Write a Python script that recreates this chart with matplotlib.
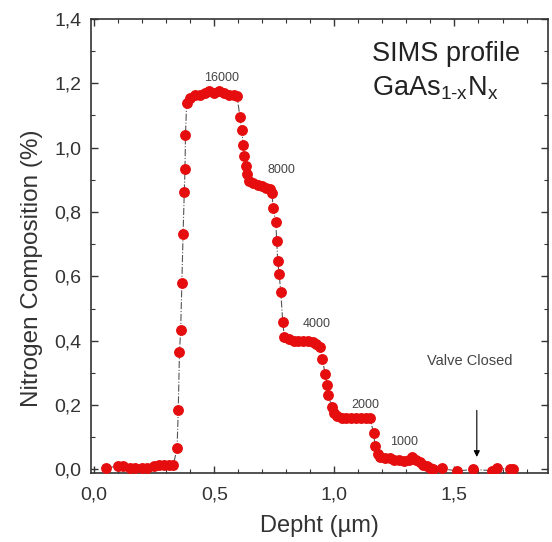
import matplotlib
matplotlib.use("Agg")
import matplotlib.pyplot as plt
from matplotlib.ticker import MultipleLocator, FuncFormatter

plt.rcParams['font.family'] = ['Liberation Sans', 'DejaVu Sans']
plt.rcParams['mathtext.fontset'] = 'custom'
plt.rcParams['mathtext.rm'] = 'Liberation Sans'

depth = [0.05, 0.10, 0.12, 0.15, 0.17, 0.20, 0.22, 0.25, 0.27, 0.29, 0.31, 0.33,
         0.345, 0.35, 0.355, 0.36, 0.365, 0.37, 0.375, 0.378, 0.38, 0.385,
         0.40, 0.42, 0.44, 0.46, 0.48, 0.50, 0.52, 0.54, 0.56, 0.58, 0.595,
         0.607, 0.614, 0.621, 0.625, 0.631, 0.636,
         0.645, 0.66, 0.68, 0.70, 0.715, 0.73, 0.74,
         0.745, 0.756, 0.76, 0.764, 0.77, 0.777, 0.785, 0.792,
         0.81, 0.83, 0.85, 0.87, 0.89, 0.91, 0.925, 0.94,
         0.95, 0.961, 0.971, 0.975, 0.989, 0.999,
         1.01, 1.03, 1.05, 1.07, 1.09, 1.11, 1.13, 1.148,
         1.163, 1.17, 1.18, 1.19, 1.21, 1.23, 1.25, 1.27, 1.29, 1.31, 1.325,
         1.34, 1.355, 1.37, 1.385, 1.40, 1.41,
         1.447, 1.51, 1.579, 1.656, 1.677, 1.732, 1.745]
nitrogen = [0.005, 0.01, 0.01, 0.005, 0.005, 0.005, 0.005, 0.01, 0.015, 0.015, 0.015, 0.015,
            0.067, 0.185, 0.365, 0.432, 0.58, 0.731, 0.861, 0.933, 1.039, 1.139,
            1.155, 1.165, 1.165, 1.17, 1.175, 1.17, 1.175, 1.17, 1.165, 1.165, 1.16,
            1.094, 1.055, 1.009, 0.975, 0.944, 0.918,
            0.895, 0.89, 0.885, 0.88, 0.875, 0.87, 0.86,
            0.811, 0.768, 0.71, 0.648, 0.607, 0.55, 0.458, 0.41,
            0.405, 0.40, 0.40, 0.40, 0.40, 0.395, 0.39, 0.38,
            0.344, 0.298, 0.261, 0.23, 0.195, 0.176,
            0.165, 0.16, 0.16, 0.16, 0.16, 0.16, 0.16, 0.16,
            0.114, 0.073, 0.047, 0.04, 0.035, 0.035, 0.03, 0.03, 0.025, 0.03, 0.038,
            0.03, 0.022, 0.015, 0.01, 0.005, 0.0,
            0.003, -0.005, 0.0, -0.004, 0.005, 0.0, 0.0]

layer_labels = ["16000", "8000", "4000", "2000", "1000"]
layer_x = [0.53, 0.78, 0.925, 1.13, 1.29]
layer_y = [1.217, 0.931, 0.451, 0.199, 0.085]

fig = plt.figure(figsize=(5.52, 5.42), dpi=100)
ax = fig.add_axes([0.165, 0.128, 0.828, 0.837])

ax.plot(depth, nitrogen, linestyle='-.', color='#555555', linewidth=0.8,
        marker='o', markersize=6.8, markerfacecolor='#e50d0d',
        markeredgecolor='#e50d0d', zorder=3)

for lab, lx, ly in zip(layer_labels, layer_x, layer_y):
    ax.text(lx, ly, lab, fontsize=9, color='#444444', ha='center', va='center')

ax.text(1.565, 0.337, "Valve Closed", fontsize=10.5, color='#444444', ha='center', va='center')
ax.annotate("", xy=(1.593, 0.030), xytext=(1.593, 0.192),
            arrowprops=dict(arrowstyle='-|>', color='black', lw=0.8,
                            mutation_scale=9))

ax.text(1.157, 1.29, "SIMS profile", fontsize=19.5, ha='left', va='center', color='#222222')
ax.text(1.157, 1.185, r"GaAs$_{\mathregular{1\text{-}x}}$N$_{\mathregular{x}}$",
        fontsize=19.5, ha='left', va='center', color='#222222')

ax.set_xlim(-0.013, 1.89)
ax.set_ylim(-0.01, 1.4)
ax.xaxis.set_major_locator(MultipleLocator(0.5))
ax.xaxis.set_minor_locator(MultipleLocator(0.1))
ax.yaxis.set_major_locator(MultipleLocator(0.2))
ax.yaxis.set_minor_locator(MultipleLocator(0.1))
fmt = FuncFormatter(lambda v, p: f"{v:.1f}".replace('.', ','))
ax.xaxis.set_major_formatter(fmt)
ax.yaxis.set_major_formatter(fmt)
ax.tick_params(which='both', direction='in', top=True, right=True, color='#333333')
ax.tick_params(which='major', length=5, width=1, labelsize=14, labelcolor='#333333', pad=7)
ax.tick_params(axis='x', which='major', pad=10)
ax.tick_params(which='minor', length=3, width=0.8)
for s in ax.spines.values():
    s.set_linewidth(1.2)
    s.set_color('#333333')

ax.set_xlabel("Depht (µm)", fontsize=17, color='#333333', labelpad=8)
ax.set_ylabel("Nitrogen Composition (%)", fontsize=17.5, color='#333333')
ax.yaxis.set_label_coords(-0.105, 0.45)

fig.savefig("out.png", dpi=100)
